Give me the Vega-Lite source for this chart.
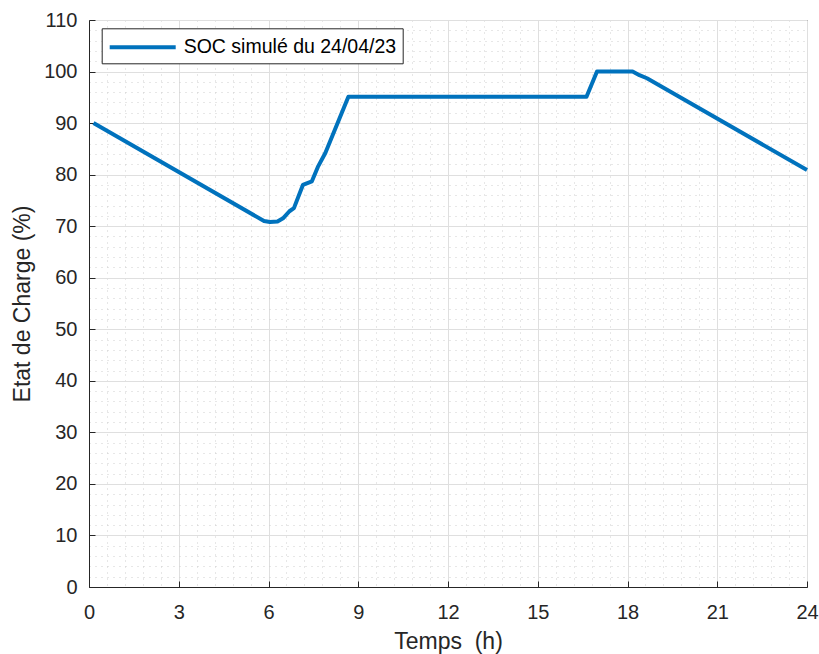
{
  "$schema": "https://vega.github.io/schema/vega-lite/v6.json",
  "width": 718,
  "height": 567,
  "autosize": {"type": "none"},
  "padding": {"left": 89, "top": 20, "right": 12, "bottom": 67},
  "background": "white",
  "config": {
    "view": {"stroke": "#262626", "strokeWidth": 1},
    "font": "Liberation Sans"
  },
  "data": {
    "values": [
      {"t": 0.15, "soc": 90.0, "serie": "SOC simulé du 24/04/23"},
      {"t": 5.85, "soc": 71.0, "serie": "SOC simulé du 24/04/23"},
      {"t": 6.05, "soc": 70.8, "serie": "SOC simulé du 24/04/23"},
      {"t": 6.3, "soc": 70.9, "serie": "SOC simulé du 24/04/23"},
      {"t": 6.5, "soc": 71.6, "serie": "SOC simulé du 24/04/23"},
      {"t": 6.7, "soc": 72.9, "serie": "SOC simulé du 24/04/23"},
      {"t": 6.85, "soc": 73.5, "serie": "SOC simulé du 24/04/23"},
      {"t": 7.15, "soc": 78.0, "serie": "SOC simulé du 24/04/23"},
      {"t": 7.45, "soc": 78.7, "serie": "SOC simulé du 24/04/23"},
      {"t": 7.65, "soc": 81.5, "serie": "SOC simulé du 24/04/23"},
      {"t": 7.9, "soc": 84.2, "serie": "SOC simulé du 24/04/23"},
      {"t": 8.67, "soc": 95.1, "serie": "SOC simulé du 24/04/23"},
      {"t": 16.63, "soc": 95.1, "serie": "SOC simulé du 24/04/23"},
      {"t": 16.98, "soc": 100.0, "serie": "SOC simulé du 24/04/23"},
      {"t": 18.17, "soc": 100.0, "serie": "SOC simulé du 24/04/23"},
      {"t": 18.4, "soc": 99.3, "serie": "SOC simulé du 24/04/23"},
      {"t": 18.65, "soc": 98.7, "serie": "SOC simulé du 24/04/23"},
      {"t": 24.0, "soc": 80.9, "serie": "SOC simulé du 24/04/23"}
    ]
  },
  "mark": {"type": "line", "strokeWidth": 4, "strokeJoin": "round", "strokeCap": "butt"},
  "encoding": {
    "x": {
      "field": "t",
      "type": "quantitative",
      "scale": {"domain": [0, 24], "nice": false, "zero": false},
      "axis": {
        "values": [0,0.6,1.2,1.8,2.4,3,3.6,4.2,4.8,5.4,6,6.6,7.2,7.8,8.4,9,9.6,10.2,10.8,11.4,12,12.6,13.2,13.8,14.4,15,15.6,16.2,16.8,17.4,18,18.6,19.2,19.8,20.4,21,21.6,22.2,22.8,23.4,24],
        "labelExpr": "datum.value % 3 === 0 ? toString(datum.value) : ''",
        "labelOverlap": false,
        "labelFlush": false,
        "labelFontSize": 20,
        "labelColor": "#262626",
        "labelPadding": 21,
        "grid": true,
        "gridColor": {"condition": {"test": "datum.value % 3 === 0", "value": "#dfdfdf"}, "value": "#cfcfcf"},
        "gridDash": {"condition": {"test": "datum.value % 3 === 0", "value": []}, "value": [1, 5]},
        "gridWidth": 1,
        "ticks": true,
        "tickSize": -6,
        "tickColor": "#262626",
        "tickOpacity": {"condition": {"test": "datum.value % 3 === 0", "value": 1}, "value": 0},
        "domainColor": "#262626",
        "title": "Temps\u00a0 (h)",
        "titleFontSize": 23,
        "titleFontWeight": "normal",
        "titleColor": "#262626",
        "titlePadding": 8
      }
    },
    "y": {
      "field": "soc",
      "type": "quantitative",
      "scale": {"domain": [0, 110], "nice": false, "zero": false},
      "axis": {
        "values": [0,2,4,6,8,10,12,14,16,18,20,22,24,26,28,30,32,34,36,38,40,42,44,46,48,50,52,54,56,58,60,62,64,66,68,70,72,74,76,78,80,82,84,86,88,90,92,94,96,98,100,102,104,106,108,110],
        "labelExpr": "datum.value % 10 === 0 ? toString(datum.value) : ''",
        "labelOverlap": false,
        "labelFlush": false,
        "labelFontSize": 20,
        "labelColor": "#262626",
        "labelPadding": 18,
        "grid": true,
        "gridColor": {"condition": {"test": "datum.value % 10 === 0", "value": "#dfdfdf"}, "value": "#cfcfcf"},
        "gridDash": {"condition": {"test": "datum.value % 10 === 0", "value": []}, "value": [1, 5]},
        "gridWidth": 1,
        "ticks": true,
        "tickSize": -6,
        "tickColor": "#262626",
        "tickOpacity": {"condition": {"test": "datum.value % 10 === 0", "value": 1}, "value": 0},
        "domainColor": "#262626",
        "title": "Etat de Charge (%)",
        "titleFontSize": 23,
        "titleFontWeight": "normal",
        "titleColor": "#262626",
        "titlePadding": 9
      }
    },
    "color": {
      "field": "serie",
      "type": "nominal",
      "scale": {"range": ["#0072BD"]},
      "legend": {
        "orient": "none",
        "legendX": 12.7,
        "legendY": 8.3,
        "title": null,
        "strokeColor": "#262626",
        "fillColor": "white",
        "padding": 6,
        "cornerRadius": 0,
        "symbolType": "M-1,0H5",
        "symbolSize": 484,
        "symbolStrokeWidth": 4,
        "labelFontSize": 19.5,
        "labelColor": "#000000",
        "labelOffset": 50,
        "labelLimit": 400
      }
    }
  }
}
